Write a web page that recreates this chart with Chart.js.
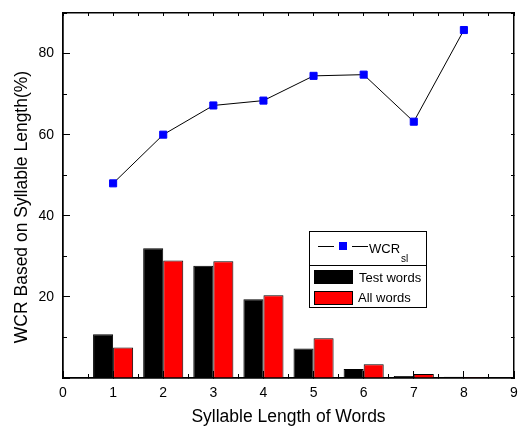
<!DOCTYPE html>
<html>
<head>
<meta charset="utf-8">
<script src="https://cdn.jsdelivr.net/npm/chart.js@4.4.1/dist/chart.umd.min.js"></script>
<style>
  html, body { margin: 0; padding: 0; background: #fff; }
  #wrap { width: 520px; height: 426px; position: relative; }
</style>
</head>
<body>
<div id="wrap"><canvas id="chart"></canvas></div>
<script>
// data
const syllables = [1, 2, 3, 4, 5, 6, 7, 8];
const wcrSl = [48.0, 60.0, 67.2, 68.4, 74.5, 74.8, 63.2, 85.8];
const testWords = [10.8, 32.0, 27.7, 19.4, 7.3, 2.2, 0.5, 0.3];
const allWords = [7.5, 29.0, 28.8, 20.4, 9.8, 3.4, 1.0, 0.2];
const yTickLabels = [20, 40, 60, 80];

const FONT = '"Liberation Sans", Arial, sans-serif';
const pts = arr => syllables.map((s, i) => ({ x: s, y: arr[i] }));

// legend box + rotated y title, drawn on top
const boxLegend = {
    id: 'boxLegend',
    afterDraw(chart) {
        const ctx = chart.ctx;
        ctx.save();
        ctx.strokeStyle = '#000';
        ctx.lineWidth = 1;
        ctx.strokeRect(309.5, 231.5, 117, 34);
        ctx.strokeRect(309.5, 265.5, 117, 42);

        // line sample
        ctx.beginPath();
        ctx.moveTo(318, 246.5); ctx.lineTo(334, 246.5);
        ctx.moveTo(352, 246.5); ctx.lineTo(368, 246.5);
        ctx.stroke();
        ctx.fillStyle = '#0000ff';
        ctx.fillRect(339, 242, 8, 8);

        ctx.fillStyle = '#000';
        ctx.textBaseline = 'alphabetic';
        ctx.font = '13px ' + FONT;
        ctx.fillText('WCR', 369, 253);
        const w = ctx.measureText('WCR').width;
        ctx.font = '10px ' + FONT;
        ctx.fillText('sl', 369 + w + 1, 262);

        // bar samples
        ctx.fillStyle = '#000';
        ctx.fillRect(314, 270, 39, 14);
        ctx.fillStyle = '#ff0000';
        ctx.fillRect(314, 291, 39, 14);
        ctx.strokeRect(314.5, 291.5, 38, 13);
        ctx.fillStyle = '#000';
        ctx.font = '13px ' + FONT;
        ctx.textBaseline = 'middle';
        ctx.fillText(chart.data.datasets[0].label, 359, 278);
        ctx.fillText(chart.data.datasets[1].label, 358, 298);

        // y axis title
        ctx.translate(22, 207);
        ctx.rotate(-Math.PI / 2);
        ctx.textAlign = 'center';
        ctx.font = '17.5px ' + FONT;
        ctx.fillText('WCR Based on Syllable Length(%)', 0, 0);
        ctx.restore();
    }
};

// force the box size of a scale and drop the label overflow padding
function fixSize(w, h) {
    return function(scale) {
        if (w !== null) scale.width = w;
        if (h !== null) scale.height = h;
        scale.paddingTop = 0;
        scale.paddingBottom = 0;
        scale.paddingLeft = 0;
        scale.paddingRight = 0;
    };
}

const tickFont = { family: FONT, size: 14 };
const frame = { display: true, color: '#000', width: 1.5 };

new Chart(document.getElementById('chart').getContext('2d'), {
    data: {
        datasets: [{
            type: 'bar',
            label: 'Test words',
            data: pts(testWords),
            backgroundColor: '#000000',
            borderColor: '#000000',
            borderWidth: 1,
            barPercentage: 1,
            categoryPercentage: 0.8,
            order: 2
        }, {
            type: 'bar',
            label: 'All words',
            data: pts(allWords),
            backgroundColor: '#ff0000',
            borderColor: '#000000',
            borderWidth: 1,
            barPercentage: 1,
            categoryPercentage: 0.8,
            order: 2
        }, {
            type: 'line',
            label: 'WCRsl',
            data: pts(wcrSl),
            borderColor: '#000000',
            borderWidth: 1,
            pointStyle: 'rect',
            pointRadius: 5,
            pointBackgroundColor: '#0000ff',
            pointBorderColor: '#0000ff',
            pointBorderWidth: 1,
            order: 1
        }]
    },
    options: {
        responsive: true,
        maintainAspectRatio: false,
        animation: false,
        layout: { padding: 0 },
        plugins: {
            legend: { display: false },
            tooltip: { enabled: false }
        },
        scales: {
            x: {
                type: 'linear', position: 'bottom', weight: 1, offset: false,
                min: 0, max: 9,
                afterFit: fixSize(null, 48),
                border: frame,
                grid: { drawOnChartArea: false, tickLength: -7, color: '#000', tickWidth: 1, offset: false },
                ticks: { stepSize: 1, includeBounds: false, color: '#000', font: tickFont, padding: 14, maxRotation: 0 },
                title: {
                    display: true, text: 'Syllable Length of Words', color: '#000',
                    font: { family: FONT, size: 17.5 }, padding: { top: 0, bottom: -2 }
                }
            },
            xMinor: {
                type: 'linear', position: 'bottom', weight: 0, offset: false,
                min: 0, max: 9,
                afterFit: fixSize(null, 0),
                border: frame,
                grid: { drawOnChartArea: false, tickLength: -4, color: '#000', tickWidth: 1, offset: false },
                ticks: { stepSize: 0.5, includeBounds: false, display: false }
            },
            xTop: {
                type: 'linear', position: 'top', offset: false,
                min: 0, max: 9,
                afterFit: fixSize(null, 13),
                border: frame,
                grid: { drawOnChartArea: false, tickLength: -3, color: '#000', tickWidth: 1, offset: false },
                ticks: { stepSize: 0.5, includeBounds: false, display: false }
            },
            y: {
                type: 'linear', position: 'left', weight: 1,
                min: 0, max: 90,
                afterFit: fixSize(63, null),
                border: frame,
                grid: { drawOnChartArea: false, tickLength: -7, color: '#000', tickWidth: 1 },
                ticks: {
                    stepSize: 20, includeBounds: false, color: '#000', font: tickFont, padding: 16,
                    callback: v => yTickLabels.includes(v) ? String(v) : ''
                }
            },
            yMinor: {
                type: 'linear', position: 'left', weight: 0,
                min: 0, max: 90,
                afterFit: fixSize(0, null),
                border: frame,
                grid: { drawOnChartArea: false, tickLength: -4, color: '#000', tickWidth: 1 },
                ticks: { stepSize: 10, includeBounds: false, display: false }
            },
            yRight: {
                type: 'linear', position: 'right',
                min: 0, max: 90,
                afterFit: fixSize(3, null),
                border: frame,
                grid: { drawOnChartArea: false, tickLength: -3, color: '#000', tickWidth: 1 },
                ticks: { stepSize: 10, includeBounds: false, display: false }
            }
        }
    },
    plugins: [boxLegend]
});
</script>
</body>
</html>
